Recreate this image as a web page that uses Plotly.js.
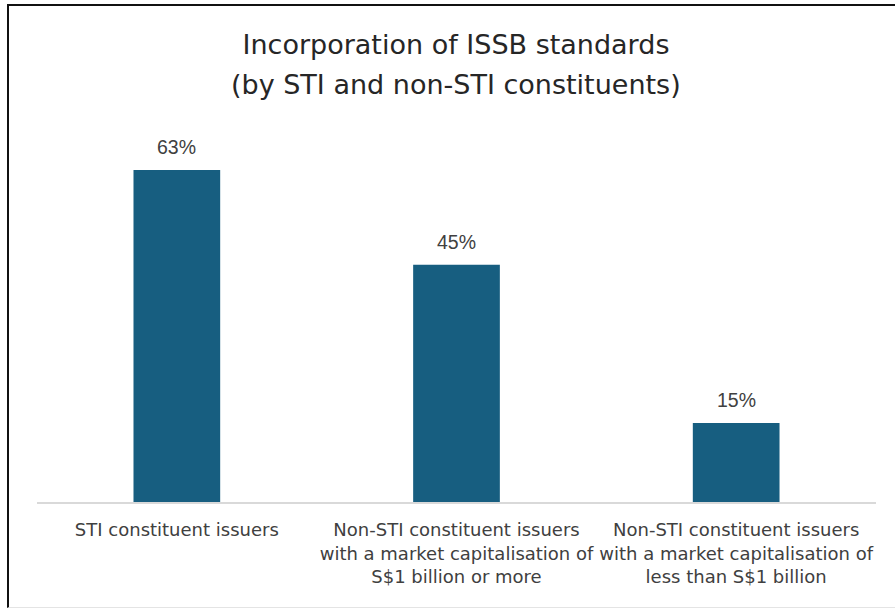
<!DOCTYPE html>
<html>
<head>
<meta charset="utf-8">
<script src="https://cdn.plot.ly/plotly-3.0.1.min.js"></script>
<style>
  html, body { margin: 0; padding: 0; background: #fff; }
  #wrap { position: relative; width: 895px; height: 608px; }
  #chart { position: absolute; left: 0; top: 0; width: 895px; height: 608px; }
  #frame { position: absolute; left: 7px; top: 4px; width: 890px; height: 601px;
           border-left: 2px solid #111; border-top: 2px solid #111;
           border-bottom: 1px solid #e4e4e4; pointer-events: none; }
</style>
</head>
<body>
<div id="wrap">
  <div id="chart"></div>
  <div id="frame"></div>
</div>
<script>
const categories = [
  "STI constituent issuers",
  "Non-STI constituent issuers<br>with a market capitalisation of<br>S$1 billion or more",
  "Non-STI constituent issuers<br>with a market capitalisation of<br>less than S$1 billion"
];
const values = [63, 45, 15];
const valueLabels = ["63%", "45%", "15%"];
const titleLine1 = "Incorporation of ISSB standards";
const titleLine2 = "(by STI and non-STI constituents)";

const FONT = "DejaVu Sans, Noto Sans, sans-serif";
const VFONT = "Liberation Sans, Arial, sans-serif";

const trace = {
  type: "bar",
  x: categories,
  y: values,
  width: 0.31,
  marker: { color: "#175e80" },
  hoverinfo: "skip"
};

const annotations = values.map((v, i) => ({
  x: categories[i], y: v, xref: "x", yref: "y",
  text: valueLabels[i], showarrow: false,
  yanchor: "bottom", yshift: 10,
  font: { family: VFONT, size: 19.5, color: "#404040" }
}));

const plotW = 895 - 37 - 19, plotH = 608 - 133 - 106;
annotations.push({
  x: 0.5 + (456 - (37 + plotW / 2)) / plotW,
  y: 1 + (133 - 85) / plotH,
  xref: "paper", yref: "paper", yanchor: "middle",
  text: titleLine2, showarrow: false,
  font: { family: FONT, size: 27, color: "#262626" }
});

const layout = {
  width: 895, height: 608,
  margin: { l: 37, r: 19, t: 133, b: 106 },
  paper_bgcolor: "#ffffff",
  plot_bgcolor: "#ffffff",
  showlegend: false,
  title: {
    text: titleLine1,
    x: 456 / 895, xanchor: "center",
    y: 1 - 45 / 608, yanchor: "middle",
    font: { family: FONT, size: 27, color: "#262626" }
  },
  xaxis: {
    type: "category",
    showgrid: false, zeroline: false,
    showline: true, linecolor: "#d9d9d9", linewidth: 1.5,
    ticks: "",
    ticklabelstandoff: 11,
    tickfont: { family: FONT, size: 18, color: "#404040" },
    fixedrange: true
  },
  yaxis: {
    range: [0, 70],
    visible: false,
    showgrid: false, zeroline: false,
    fixedrange: true
  },
  annotations: annotations,
  bargap: 0.69
};

Plotly.newPlot("chart", [trace], layout, { displayModeBar: false, staticPlot: true });
</script>
</body>
</html>
